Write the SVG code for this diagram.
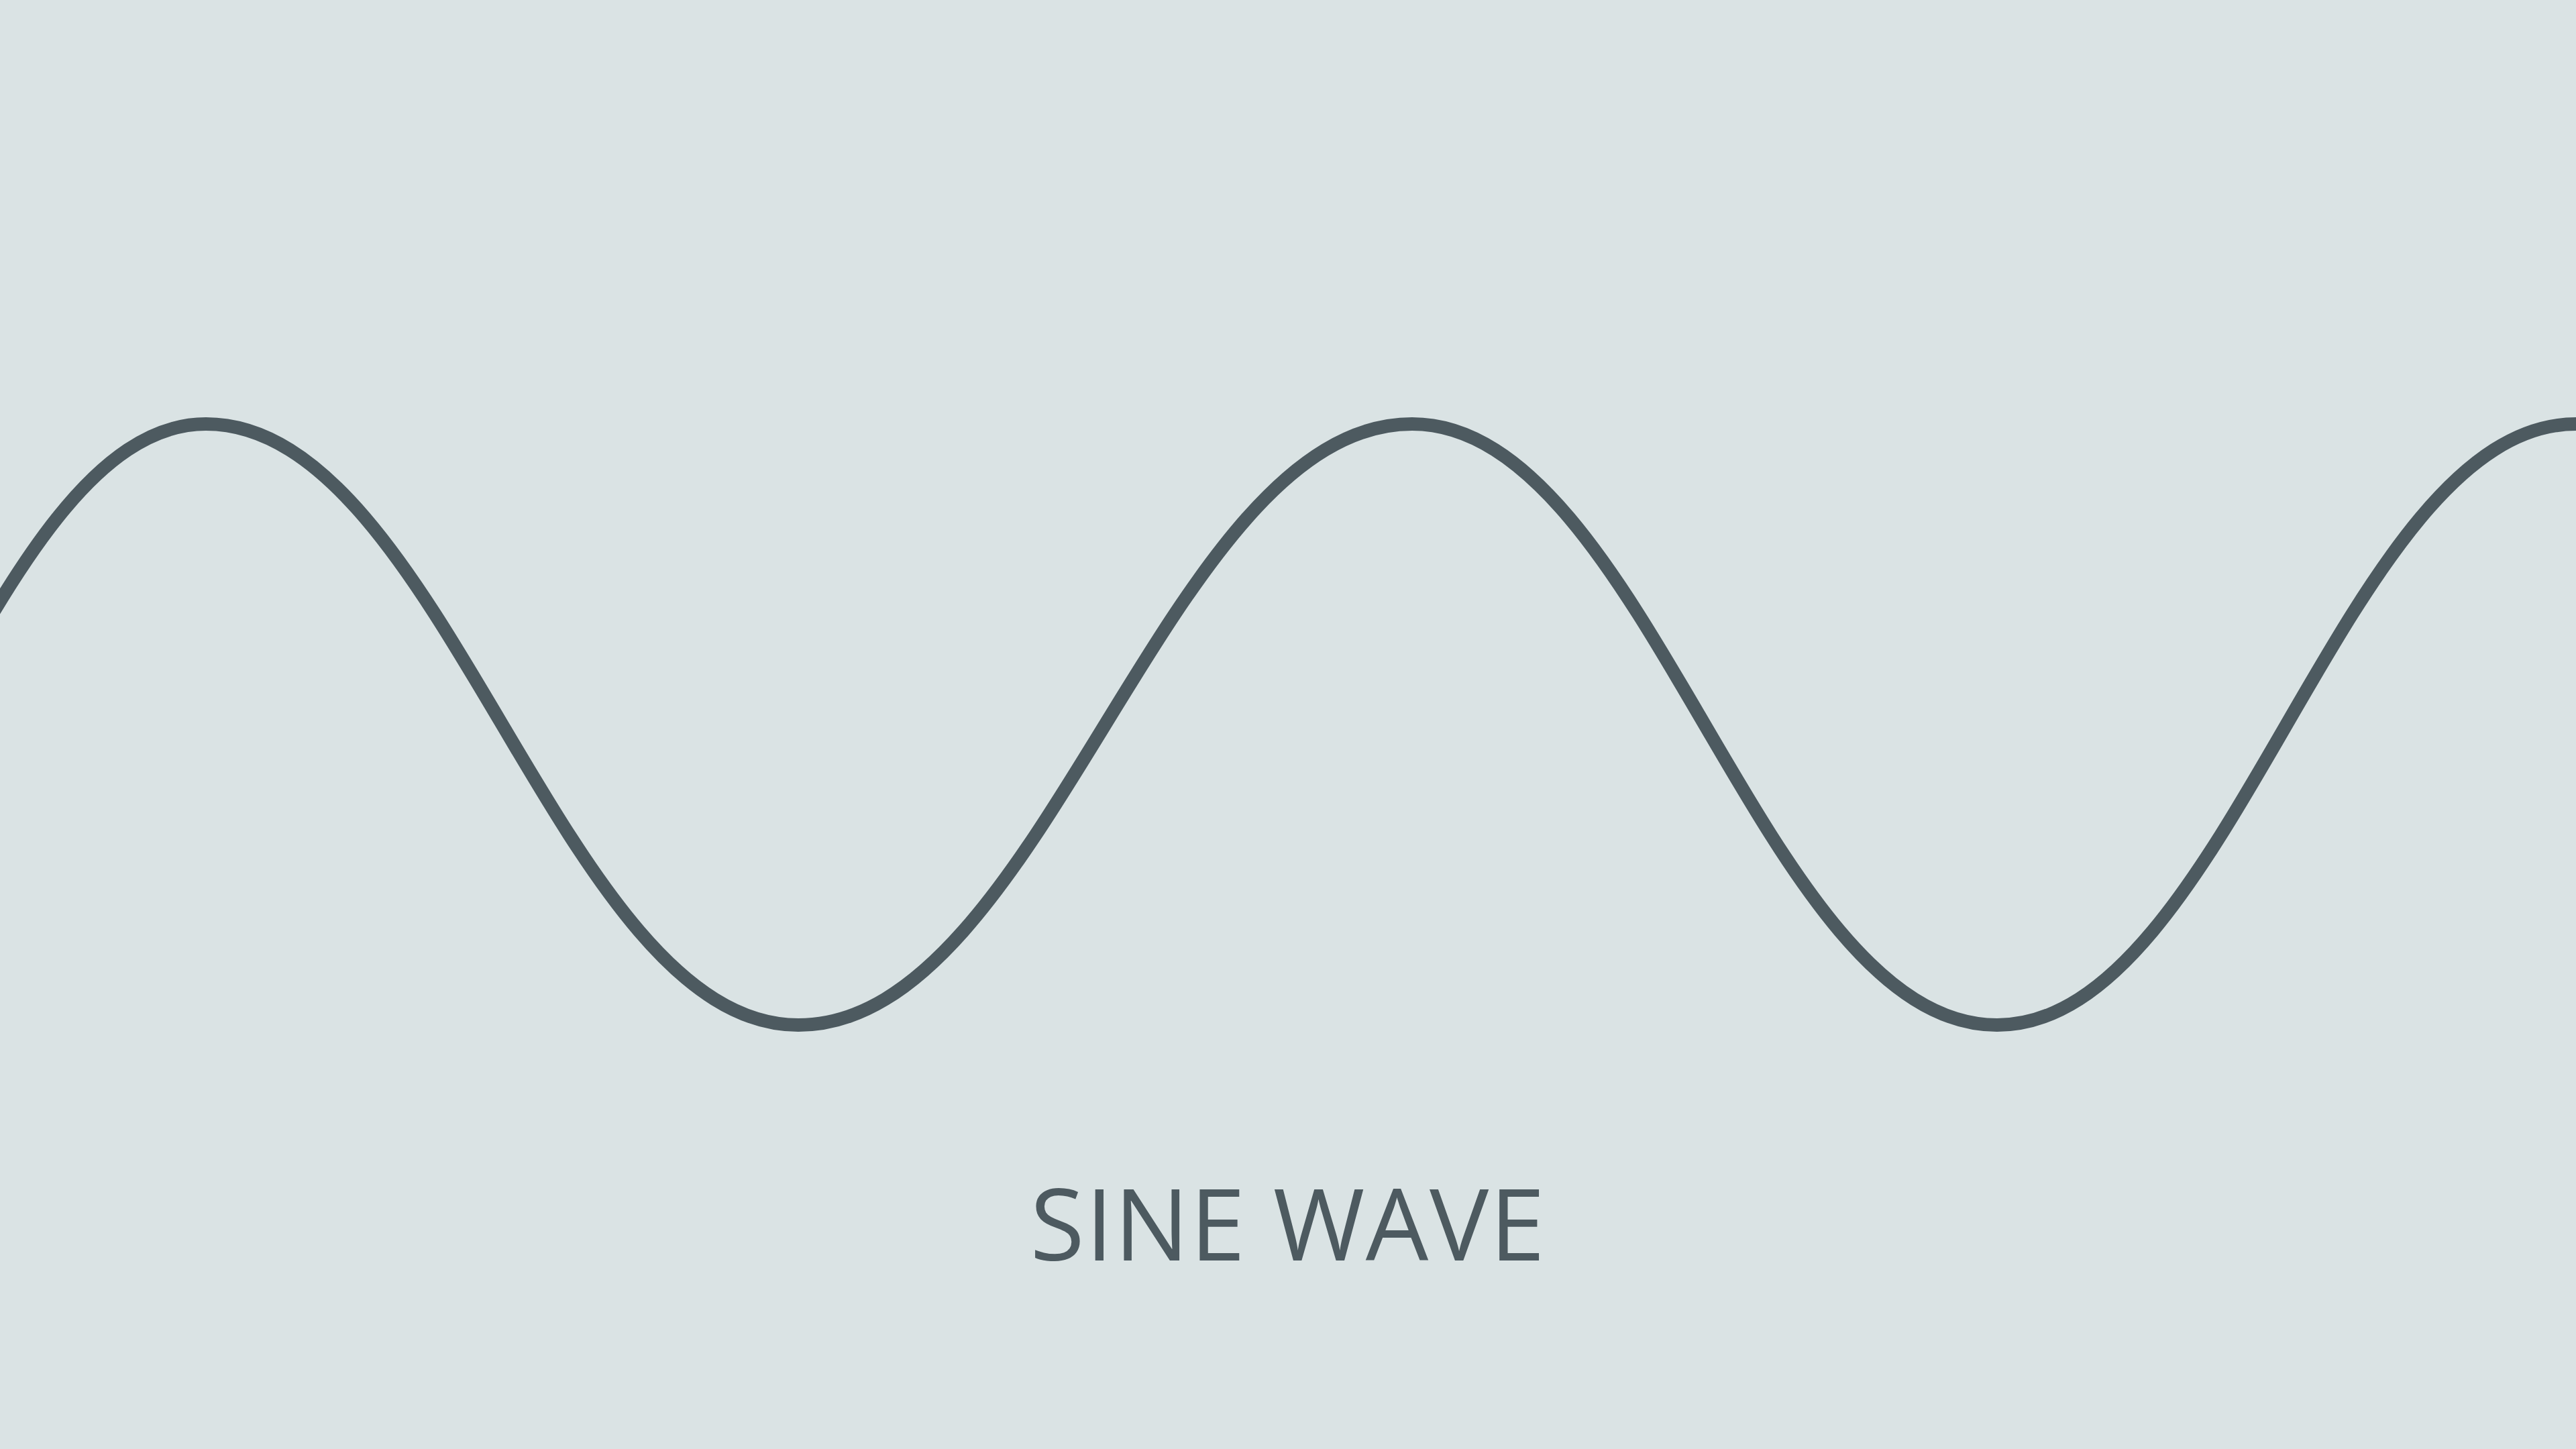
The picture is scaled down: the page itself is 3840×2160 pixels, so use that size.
<svg xmlns="http://www.w3.org/2000/svg" width="3840" height="2160" viewBox="0 0 3840 2160">
<style>
.bg{fill:#dae3e4}
.wave{fill:none;stroke:#4d5a60;stroke-width:20;stroke-linecap:butt}
.title{font-family:"Open Sans","Noto Sans",sans-serif;font-size:148px;fill:#4d5a60;letter-spacing:1.5px}
</style>
<rect class="bg" x="0" y="0" width="3840" height="2160"/>
<g id="wave">
<path class="wave" d="M -517 1528 C -187 1528 -23 632 307 632 C 660 632 837 1528 1190 1528 C 1556 1528 1739 632 2105 632 C 2454 632 2628 1528 2977 1528 C 3322 1528 3495 632 3840 632 L 3860 632"/>
</g>
<g id="label">
<text class="title" x="1920" y="1879" text-anchor="middle">SINE WAVE</text>
</g>
</svg>
